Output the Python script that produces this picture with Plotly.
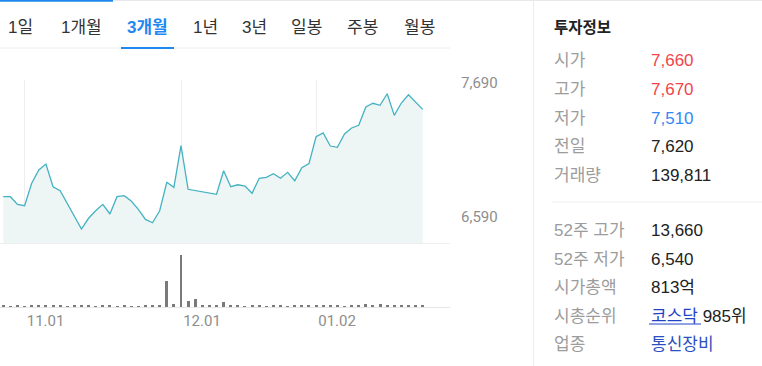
import plotly.graph_objects as go

# ---------------- data ----------------
dates = ["10.27", "10.30", "10.31",
         "11.01", "11.02", "11.03", "11.06", "11.07", "11.08", "11.09", "11.10", "11.13", "11.14",
         "11.15", "11.16", "11.17", "11.20", "11.21", "11.22", "11.23", "11.24", "11.27", "11.28",
         "11.29", "11.30",
         "12.01", "12.04", "12.05", "12.06", "12.07", "12.08", "12.11", "12.12", "12.13", "12.14",
         "12.15", "12.18", "12.19", "12.20", "12.21", "12.22", "12.26", "12.27", "12.28",
         "01.02", "01.03", "01.04", "01.05", "01.08", "01.09", "01.10", "01.11", "01.12", "01.15",
         "01.16", "01.17", "01.18", "01.19", "01.22", "01.23"]

close = [6806, 6806, 6743, 6732, 6916, 7025, 7074, 6888, 6855, 6754,
         6647, 6540, 6629, 6691, 6743, 6664, 6806, 6814, 6771, 6702,
         6620, 6592, 6691, 6924, 6883, 7225, 6867, 6857, 6844, 6836,
         6826, 7019, 6888, 6904, 6894, 6834, 6957, 6965, 6995, 6957,
         7006, 6937, 7044, 7077, 7298, 7329, 7222, 7211, 7321, 7370,
         7392, 7542, 7573, 7556, 7651, 7474, 7575, 7643, 7583, 7523]

volume = [70000, 65000, 72000, 68000, 75000, 80000, 140000, 90000, 70000, 66000,
          72000, 78000, 70000, 68000, 74000, 70000, 66000, 70000, 64000, 68000,
          72000, 75000, 90000, 1800000, 210000, 3600000, 420000, 550000, 100000, 130000,
          90000, 350000, 90000, 70000, 68000, 72000, 70000, 66000, 70000, 74000,
          68000, 72000, 70000, 75000, 140000, 90000, 80000, 70000, 66000, 72000,
          70000, 175000, 170000, 175000, 165000, 130000, 100000, 95000, 100000, 139811]

x_ticks = ["11.01", "12.01", "01.02"]
y_ticks = [7690, 6590]
y_ticktext = ["7,690", "6,590"]

tabs = ["1일", "1개월", "3개월", "1년", "3년", "일봉", "주봉", "월봉"]
active_tab = "3개월"

info_title = "투자정보"
info_labels_1 = ["시가", "고가", "저가", "전일", "거래량"]
info_values_1 = ["7,660", "7,670", "7,510", "7,620", "139,811"]
info_colors_1 = ["#f2444b", "#f2444b", "#3388f5", "#222222", "#222222"]
info_labels_2 = ["52주 고가", "52주 저가", "시가총액", "시총순위", "업종"]
info_values_2 = ["13,660", "6,540", "813억",
                 "<span style='color:#1f44c8'>코스닥</span> 985위",
                 "<span style='color:#2a4fc2'>통신장비</span>"]

# ---------------- figure ----------------
W, H = 762, 366


def fx(p):
    return p / W


def fy(p):
    return 1 - p / H


fig = go.Figure()

fig.add_trace(go.Scatter(
    x=dates, y=close, mode="lines", fill="tozeroy",
    line=dict(color="#44b2c2", width=1.3), fillcolor="#edf6f4",
    xaxis="x", yaxis="y", hoverinfo="skip", showlegend=False))

fig.add_trace(go.Bar(
    x=dates, y=volume, marker=dict(color="#7a7a7a", line=dict(width=0)),
    width=0.42, xaxis="x2", yaxis="y2", hoverinfo="skip", showlegend=False))

vmax = max(volume)
xr = [-0.46, 62.84]
tickfont = dict(family="Roboto, Liberation Sans", size=15, color="#8e8e8e")

fig.update_layout(
    width=W, height=H, autosize=False,
    margin=dict(l=0, r=0, t=0, b=0, pad=0, autoexpand=False),
    paper_bgcolor="white", plot_bgcolor="white",
    xaxis=dict(domain=[0, fx(450)], type="category", range=xr,
               categoryorder="array", categoryarray=dates,
               tickvals=x_ticks, showticklabels=False, ticks="",
               showgrid=True, gridcolor="#eeeeee", gridwidth=1,
               showline=True, linecolor="#eeeeee", linewidth=1,
               zeroline=False, fixedrange=True, automargin=False),
    yaxis=dict(domain=[fy(243), fy(80)], range=[6426, 7764],
               side="right", tickvals=y_ticks, ticktext=y_ticktext,
               showgrid=False, zeroline=False, ticks="",
               ticklabelstandoff=10, ticklabelshift=-6,
               tickfont=tickfont, fixedrange=True, automargin=False),
    xaxis2=dict(domain=[0, fx(450)], type="category", range=xr,
                categoryorder="array", categoryarray=dates, anchor="y2",
                tickvals=x_ticks, ticktext=x_ticks, ticks="",
                ticklabelshift=21, tickfont=tickfont,
                showgrid=False, showline=True, linecolor="#e6e6e6", linewidth=1,
                zeroline=False, fixedrange=True, automargin=False),
    yaxis2=dict(domain=[fy(307), fy(250)], range=[0, vmax * 57 / 52],
                anchor="x2", showticklabels=False, showgrid=False,
                zeroline=False, fixedrange=True, automargin=False),
    bargap=0,
)

shapes = []
# top border lines
shapes.append(dict(type="line", xref="paper", yref="paper", x0=0, x1=1,
                   y0=fy(0.5), y1=fy(0.5), line=dict(color="#e8e8e8", width=1)))
shapes.append(dict(type="line", xref="paper", yref="paper", x0=0, x1=fx(113),
                   y0=fy(0.8), y1=fy(0.8), line=dict(color="#1e88f0", width=2)))
# tab bar bottom line
shapes.append(dict(type="line", xref="paper", yref="paper", x0=0, x1=fx(450),
                   y0=fy(48), y1=fy(48), line=dict(color="#eeeeee", width=1)))
# active tab underline
shapes.append(dict(type="line", xref="paper", yref="paper", x0=fx(121), x1=fx(174),
                   y0=fy(48), y1=fy(48), line=dict(color="#1e88f0", width=2)))
# right panel border
shapes.append(dict(type="line", xref="paper", yref="paper", x0=fx(533.5), x1=fx(533.5),
                   y0=0, y1=1, line=dict(color="#ececec", width=1)))
# divider in info panel
shapes.append(dict(type="line", xref="paper", yref="paper", x0=fx(552), x1=1,
                   y0=fy(202), y1=fy(202), line=dict(color="#eeeeee", width=1)))
# underline of link
shapes.append(dict(type="line", xref="paper", yref="paper", x0=fx(649), x1=fx(701),
                   y0=fy(324), y1=fy(324), line=dict(color="#1f44c8", width=1)))

annotations = []
font_fam = "Liberation Sans, Noto Sans CJK KR"
tab_x = [20, 81, 147, 205, 254, 306, 362, 419]
for t, xc in zip(tabs, tab_x):
    active = t == active_tab
    annotations.append(dict(
        xref="paper", yref="paper", x=fx(xc), y=fy(28), xanchor="center", yanchor="middle",
        text=f"<b>{t}</b>" if active else t, showarrow=False,
        font=dict(family=font_fam, size=17, color="#1e88f0" if active else "#333333")))

annotations.append(dict(xref="paper", yref="paper", x=fx(552), y=fy(28),
                        xanchor="left", yanchor="middle", text=f"<b>{info_title}</b>",
                        showarrow=False,
                        font=dict(family=font_fam, size=15.5, color="#222222")))

rows1_y = [61, 89.5, 118, 146.5, 175]
for lab, val, col, yy in zip(info_labels_1, info_values_1, info_colors_1, rows1_y):
    annotations.append(dict(xref="paper", yref="paper", x=fx(552), y=fy(yy),
                            xanchor="left", yanchor="middle", text=lab, showarrow=False,
                            font=dict(family=font_fam, size=17, color="#9c9c9c")))
    annotations.append(dict(xref="paper", yref="paper", x=fx(649), y=fy(yy),
                            xanchor="left", yanchor="middle", text=val, showarrow=False,
                            font=dict(family=font_fam, size=17, color=col)))

rows2_y = [230, 259, 287.5, 316, 344]
for lab, val, yy in zip(info_labels_2, info_values_2, rows2_y):
    annotations.append(dict(xref="paper", yref="paper", x=fx(552), y=fy(yy),
                            xanchor="left", yanchor="middle", text=lab, showarrow=False,
                            font=dict(family=font_fam, size=17, color="#9c9c9c")))
    annotations.append(dict(xref="paper", yref="paper", x=fx(649), y=fy(yy),
                            xanchor="left", yanchor="middle", text=val, showarrow=False,
                            font=dict(family=font_fam, size=17, color="#222222")))

fig.update_layout(shapes=shapes, annotations=annotations)

fig.write_html("out.html", config=dict(displayModeBar=False),
               post_script="document.body.style.margin='0';document.body.style.overflow='hidden';")
